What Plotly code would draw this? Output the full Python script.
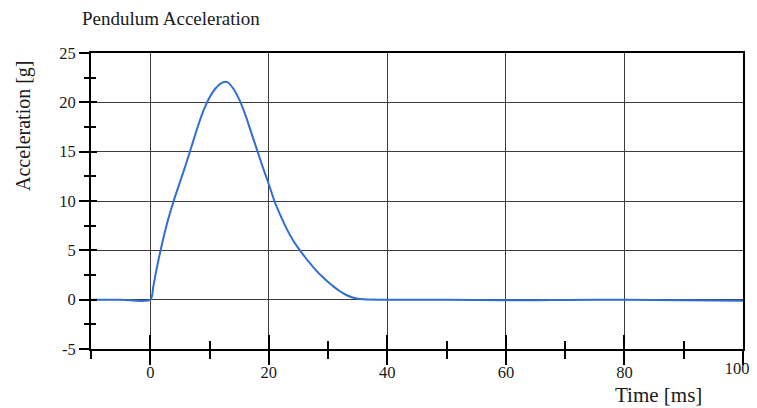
import plotly.graph_objects as go

# Data
time_ms = [-10, -5, 0, 0.5, 1, 2, 3, 4, 5, 6, 7, 8, 9, 10, 11, 12, 13, 14, 15,
           16, 17, 18, 19, 20, 21, 22, 23, 24, 25, 26, 27, 28, 29, 30, 31, 32, 33,
           34, 35, 36, 40, 50, 60, 65, 70, 80, 90, 100]
accel_g = [0.0, 0.0, 0.0, 1.3, 2.9, 5.7, 8.1, 10.1, 11.9, 13.7, 15.6, 17.5, 19.2,
           20.5, 21.4, 21.95, 22.05, 21.4, 20.3, 18.8, 17.0, 15.2, 13.4, 11.7,
           9.9, 8.5, 7.2, 6.1, 5.2, 4.4, 3.65, 2.95, 2.35, 1.8, 1.3, 0.85, 0.5,
           0.25, 0.1, 0.05, 0.0, -0.02, -0.05, -0.05, -0.03, -0.02, -0.05, -0.1]

x_ticks = [0, 20, 40, 60, 80, 100]
x_tick_labels = ["0", "20", "40", "60", "80", "100"]
y_ticks = [-5, 0, 5, 10, 15, 20, 25]
y_tick_labels = ["-5", "0", "5", "10", "15", "20", "25"]

title_text = "Pendulum Acceleration"
x_title = "Time [ms]"
y_title = "Acceleration [g]"

SERIF = "Liberation Serif, Times New Roman, serif"
INK = "#1a1a1a"
GRID = "#3c3c3c"

fig = go.Figure()
fig.add_trace(go.Scatter(
    x=time_ms, y=accel_g, mode="lines",
    line=dict(color="#2f6fd4", width=2, shape="spline", smoothing=0.8),
    showlegend=False, hoverinfo="skip",
))
# invisible traces to activate overlay axes
fig.add_trace(go.Scatter(x=[None], y=[None], xaxis="x2", yaxis="y2",
                         showlegend=False, hoverinfo="skip"))
fig.add_trace(go.Scatter(x=[None], y=[None], xaxis="x3", yaxis="y2",
                         showlegend=False, hoverinfo="skip"))

# last x label drawn on its own axis, nudged so it stays inside the page
main_x_text = x_tick_labels[:-1] + [""]

# the page body adds an 8px offset; figure size and margins compensate for it
fig.update_layout(
    width=749, height=400,
    margin=dict(l=83, r=14, t=45, b=59, autoexpand=False),
    paper_bgcolor="white", plot_bgcolor="white",
    font=dict(family=SERIF, color=INK, size=16),
    title=dict(text=title_text, x=74/749, xref="container", xanchor="left",
               y=1-10/400, yref="container", yanchor="middle",
               font=dict(family=SERIF, size=19, color=INK)),
    xaxis=dict(
        range=[-10, 100], tickvals=x_ticks, ticktext=main_x_text,
        ticks="outside", ticklen=14, tickwidth=2, tickcolor="black",
        minor=dict(dtick=10, tick0=0, ticks="outside", ticklen=8, tickwidth=2,
                   tickcolor="black", showgrid=False),
        showgrid=True, gridcolor=GRID, gridwidth=1,
        showline=True, linecolor="black", linewidth=2, mirror=True,
        zeroline=False, automargin=False, ticklabelstandoff=-7,
        ticklabeloverflow="allow",
        tickfont=dict(family=SERIF, size=16.5, color=INK),
    ),
    yaxis=dict(
        range=[-5, 25], tickvals=y_ticks, ticktext=y_tick_labels,
        ticks="outside", ticklen=10, tickwidth=2, tickcolor="black",
        minor=dict(dtick=2.5, tick0=0, ticks="outside", ticklen=5, tickwidth=2,
                   tickcolor="black", showgrid=False),
        showgrid=True, gridcolor=GRID, gridwidth=1,
        showline=True, linecolor="black", linewidth=2, mirror=True,
        zeroline=False, automargin=False,
        tickfont=dict(family=SERIF, size=16.5, color=INK),
    ),
    xaxis2=dict(
        overlaying="x", anchor="y2", side="bottom", range=[-10, 100],
        tickvals=x_ticks, showticklabels=False,
        ticks="inside", ticklen=14, tickwidth=2, tickcolor="black",
        minor=dict(dtick=10, tick0=0, ticks="inside", ticklen=8, tickwidth=2,
                   tickcolor="black", showgrid=False),
        showgrid=False, zeroline=False, showline=False, automargin=False,
    ),
    xaxis3=dict(
        overlaying="x", anchor="y2", side="bottom", range=[-10, 100],
        tickvals=x_ticks[-1:], ticktext=x_tick_labels[-1:],
        ticks="", ticklabelstandoff=7, ticklabelshift=-6,
        ticklabeloverflow="allow",
        showgrid=False, zeroline=False, showline=False, automargin=False,
        tickfont=dict(family=SERIF, size=16.5, color=INK),
    ),
    yaxis2=dict(
        overlaying="y", anchor="x2", side="left", range=[-5, 25],
        tickvals=y_ticks, showticklabels=False,
        ticks="inside", ticklen=6, tickwidth=2, tickcolor="black",
        minor=dict(dtick=2.5, tick0=0, ticks="inside", ticklen=5, tickwidth=2,
                   tickcolor="black", showgrid=False),
        showgrid=False, zeroline=False, showline=False, automargin=False,
    ),
    annotations=[
        dict(text=x_title, xref="paper", yref="paper",
             x=(704-91)/651.7, y=(349-395)/296, xanchor="right", yanchor="middle",
             showarrow=False, font=dict(family=SERIF, size=21, color=INK)),
        dict(text=y_title, xref="paper", yref="paper", textangle=-90,
             x=(23-91)/651.7, y=(349-126)/296, xanchor="center", yanchor="middle",
             showarrow=False, font=dict(family=SERIF, size=20, color=INK)),
    ],
)

fig.write_html("out.html")
